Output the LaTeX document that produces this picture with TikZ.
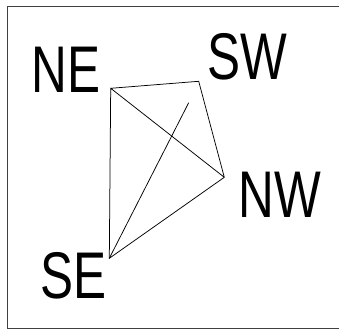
\documentclass[tikz,border=0pt]{standalone}
\usepackage{fontspec}
\newfontfamily\labelfont[FakeStretch=0.75]{Liberation Sans}
\usetikzlibrary{positioning}

\begin{document}
\begin{tikzpicture}[
  x=1pt, y=-1pt,
  frame/.style={line width=0.9pt, black!75},
  edge/.style={line width=0.75pt, black},
  tag/.style={font=\labelfont\fontsize{66}{66}\selectfont, inner sep=0pt}]

\useasboundingbox (0,0) rectangle (339,329);
\draw[frame] (7,6.5) -- (350,6.5) (7,6.5) -- (7,328) -- (350,328);

% ---- the four corners and the loose end --------------------------------
\coordinate (ne) at (110.7, 88.3);
\coordinate (sw) at (198.7, 81.3);
\coordinate (nw) at (224.3,177.3);
\coordinate (se) at (109.3,258.3);
\coordinate (tip) at (188.7,102.7);

% ---- labels -------------------------------------------------------------
\node[tag] (neL) at ( 66.0, 69.5) {NE};
\node[tag] (swL) at (247.5, 56.5) {SW};
\node[tag] (nwL) at (280.0,195.0) {NW};
\node[tag] (seL) at ( 73.5,275.5) {SE};

% ---- edges --------------------------------------------------------------
\draw[edge] (ne) -- (sw) -- (nw) -- (se) -- (ne) -- (nw);
\draw[edge] (se) -- (tip);
\end{tikzpicture}
\end{document}
